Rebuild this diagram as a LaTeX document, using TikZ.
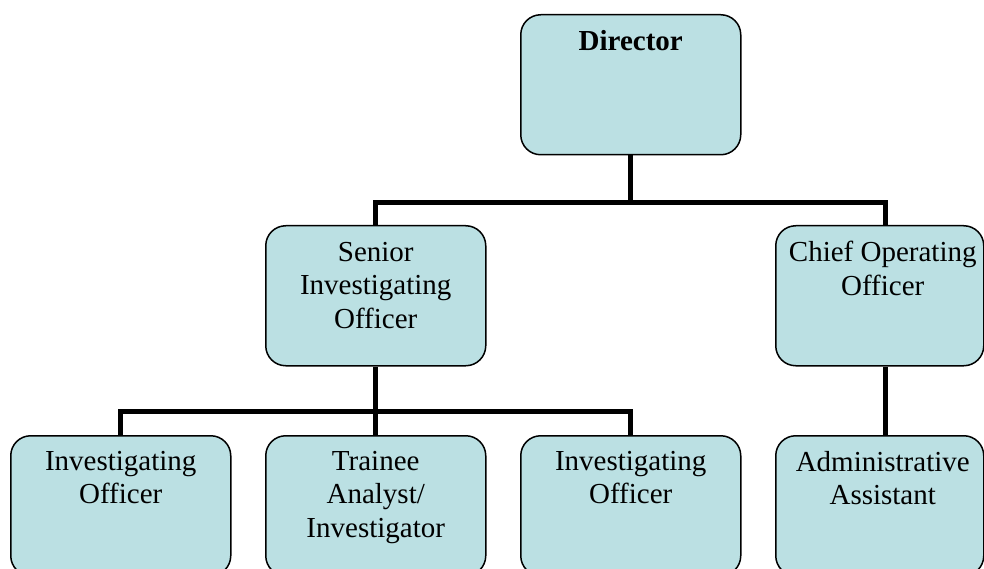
\documentclass[tikz,border=0pt]{standalone}
\usepackage{fontspec}
\setmainfont{Liberation Serif}
\definecolor{boxfill}{HTML}{BBE0E3}
\tikzset{
  orgbox/.style={draw=black, line width=1.5pt, fill=boxfill, rounded corners=20pt, minimum width=#1, minimum height=140pt, inner sep=0pt},
  orgbox/.default=220pt,
  orgtxt/.style={anchor=north, inner sep=0pt, align=center, font=\fontsize{29}{33.5}\selectfont},
  link/.style={line width=5pt, line join=miter, line cap=rect}
}
\begin{document}
\begin{tikzpicture}[x=1pt,y=-1pt]
\useasboundingbox (0,0) rectangle (984,569);
\clip (0,0) rectangle (984,569);
% boxes
\node[orgbox, anchor=north west] (dir) at (520,14) {};
\node[orgbox, anchor=north west] (sio) at (265,225) {};
\node[orgbox=208pt, anchor=north west] (coo) at (775,225) {};
\node[orgbox, anchor=north west] (io1) at (10,435) {};
\node[orgbox, anchor=north west] (tai) at (265,435) {};
\node[orgbox, anchor=north west] (io2) at (520,435) {};
\node[orgbox=208pt, anchor=north west] (adm) at (775,435) {};
% texts
\node[orgtxt, font=\fontsize{29}{33.5}\selectfont\bfseries] (tdir) at ([yshift=-16pt]dir.north) {Director};
\node[orgtxt] (tsio) at ([yshift=-17pt]sio.north) {Senior\\Investigating\\Officer};
\node[orgtxt] (tcoo) at ([xshift=3pt,yshift=-16pt]coo.north) {Chief Operating\\Officer};
\node[orgtxt] (tio1) at ([yshift=-16pt]io1.north) {Investigating\\Officer};
\node[orgtxt] (ttai) at ([yshift=-16pt]tai.north) {Trainee\\Analyst/\\Investigator};
\node[orgtxt] (tio2) at ([yshift=-16pt]io2.north) {Investigating\\Officer};
\node[orgtxt] (tadm) at ([xshift=3pt,yshift=-16pt]adm.north) {Administrative\\Assistant};
% connectors
\coordinate (j1) at (dir.south |- 0,203);
\coordinate (j2) at (sio.south |- 0,411);
\draw[link, line cap=butt] (dir.south) -- (j1);
\draw[link, line cap=butt] (sio.north |- j1) -- (sio.north);
\draw[link, line cap=butt] (coo.north -| 885,0) -- (885,203);
\draw[link] (sio.north |- j1) -- (885,203);
\draw[link, line cap=butt] (sio.south) -- (tai.north);
\draw[link] (io1.north |- j2) -- (io2.north |- j2);
\draw[link, line cap=butt] (io1.north |- j2) -- (io1.north);
\draw[link, line cap=butt] (io2.north |- j2) -- (io2.north);
\draw[link, line cap=butt] (coo.south -| 885,0) -- (adm.north -| 885,0);
\end{tikzpicture}
\end{document}
